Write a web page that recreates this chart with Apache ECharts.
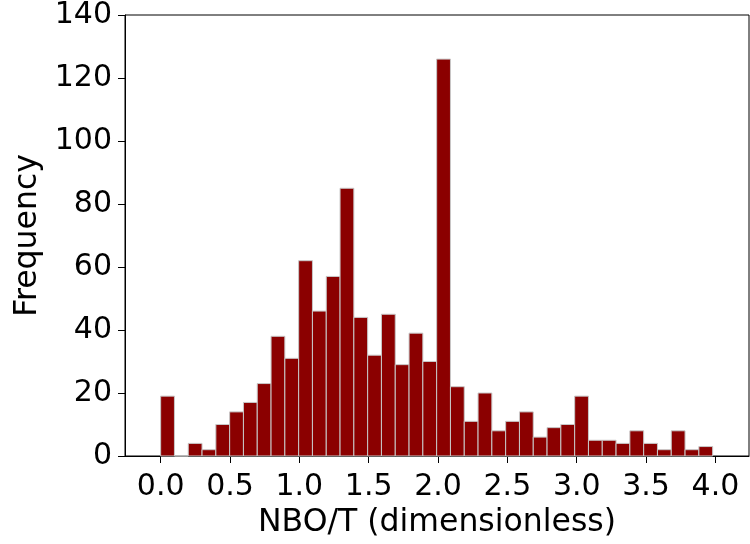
<!DOCTYPE html>
<html>
<head>
<meta charset="utf-8">
<script src="https://cdn.jsdelivr.net/npm/echarts@6/dist/echarts.min.js"></script>
<style>html,body{margin:0;padding:0;background:#fff;}#c{width:750px;height:544px;}</style>
</head>
<body>
<div id="c"></div>
<script>
// Histogram data (40 bins from binLow to binHigh)
const binLow = 0.0;
const binHigh = 3.98;
const counts = [19, 0, 4, 2, 10, 14, 17, 23, 38, 31,
                62, 46, 57, 85, 44, 32, 45, 29, 39, 30,
                126, 22, 11, 20, 8, 11, 14, 6, 9, 10,
                19, 5, 5, 4, 8, 4, 2, 8, 2, 3];
const xTicks = [0.0, 0.5, 1.0, 1.5, 2.0, 2.5, 3.0, 3.5, 4.0];
const yTicks = [0, 20, 40, 60, 80, 100, 120, 140];
const xLabel = 'NBO/T (dimensionless)';
const yLabel = 'Frequency';

const nb = counts.length;
const w = (binHigh - binLow) / nb;
const bins = counts.map((c, i) => [binLow + i * w, binLow + (i + 1) * w, c]);

const FONT = 'DejaVu Sans';
const chart = echarts.init(document.getElementById('c'), null, {renderer: 'canvas'});
chart.setOption({
  animation: false,
  backgroundColor: '#fff',
  grid: {left: 125, right: 1, top: 14, bottom: 88, show: true, borderColor: '#000', borderWidth: 1, backgroundColor: 'transparent'},
  xAxis: {
    type: 'value', min: -0.257, max: 4.242,
    name: xLabel, nameLocation: 'middle', nameGap: 49,
    nameTextStyle: {fontFamily: FONT, fontSize: 31.5, color: '#000'},
    axisLine: {show: true, onZero: false, lineStyle: {color: '#000', width: 1}},
    axisTick: {show: true, length: 7, customValues: xTicks, lineStyle: {color: '#000'}},
    axisLabel: {customValues: xTicks, formatter: v => v.toFixed(1), fontFamily: FONT, fontSize: 30, color: '#000', margin: 16},
    splitLine: {show: false}
  },
  yAxis: {
    type: 'value', min: 0, max: 140, interval: 20,
    name: yLabel, nameLocation: 'middle', nameGap: 81,
    nameTextStyle: {fontFamily: FONT, fontSize: 31.5, color: '#000'},
    axisLine: {show: true, onZero: false, lineStyle: {color: '#000', width: 1}},
    axisTick: {show: true, length: 7, customValues: yTicks, lineStyle: {color: '#000'}},
    axisLabel: {customValues: yTicks, fontFamily: FONT, fontSize: 30, color: '#000', margin: 13},
    splitLine: {show: false}
  },
  series: [{
    type: 'custom',
    data: bins,
    encode: {x: [0, 1], y: 2},
    renderItem: function (params, api) {
      const p0 = api.coord([api.value(0), 0]);
      const p1 = api.coord([api.value(1), api.value(2)]);
      return {
        type: 'rect',
        shape: {x: p0[0], y: p1[1], width: p1[0] - p0[0], height: p0[1] - p1[1]},
        style: {fill: '#8b0000', stroke: '#c8c8c8', lineWidth: 1}
      };
    }
  }]
});
</script>
</body>
</html>
